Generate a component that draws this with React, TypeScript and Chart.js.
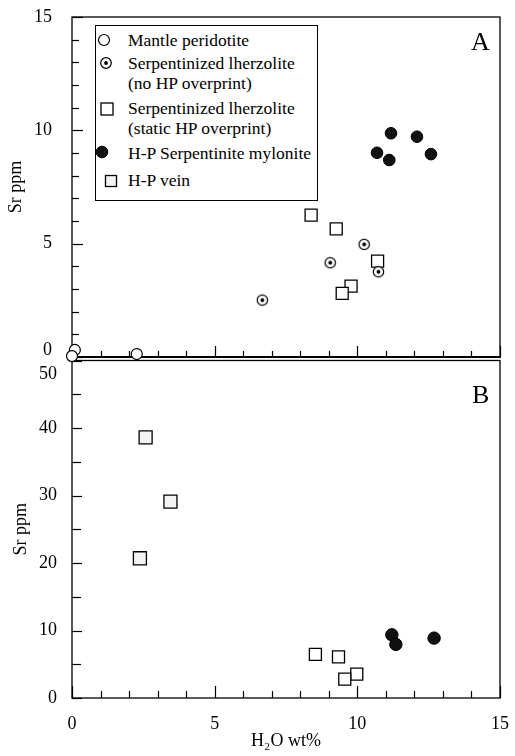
import React, { useEffect, useRef } from 'react';
import { Chart, registerables } from 'chart.js';
Chart.register(...registerables);

const FONT = "'Liberation Serif', 'Times New Roman', serif";

// ---- Panel A (Sr 0-15 ppm) ----
const mantleX = [0.1, 0.0, 2.27];
const mantleY = [0.31, 0.04, 0.13];
const noHpX = [10.24, 9.05, 10.74, 6.67];
const noHpY = [4.97, 4.16, 3.76, 2.51];
const staticHpXA = [8.38, 9.26, 10.71, 9.78, 9.47];
const staticHpYA = [6.26, 5.65, 4.23, 3.13, 2.81];
const myloniteXA = [11.18, 12.09, 10.69, 11.12, 12.58];
const myloniteYA = [9.87, 9.72, 9.01, 8.69, 8.95];

// ---- Panel B (Sr 0-50 ppm) ----
const veinX = [2.58, 3.45, 2.38];
const veinY = [38.6, 29.1, 20.7];
const staticHpXB = [8.53, 9.34, 9.98, 9.56];
const staticHpYB = [6.47, 6.08, 3.53, 2.79];
const myloniteXB = [11.21, 11.35, 12.69];
const myloniteYB = [9.36, 7.94, 8.87];

// ---- ticks / labels ----
const xTicks = [0, 5, 10, 15];
const yTicksA = [0, 5, 10, 15];
const yTicksB = [0, 10, 20, 30, 40, 50];
const xTitle = 'H\u2082O wt%';
const yTitle = 'Sr ppm';
const legendLines = [
  ['Mantle peridotite'],
  ['Serpentinized lherzolite', '(no HP overprint)'],
  ['Serpentinized lherzolite', '(static HP overprint)'],
  ['H-P Serpentinite mylonite'],
  ['H-P vein'],
];

const zip = (xs: number[], ys: number[]) => xs.map((x, i) => ({ x, y: ys[i] }));

function makeDotCircle(r: number, dot: number) {
  const s = Math.ceil(2 * r + 4);
  const c = document.createElement('canvas');
  c.width = s;
  c.height = s;
  const g = c.getContext('2d')!;
  g.beginPath();
  g.arc(s / 2, s / 2, r, 0, Math.PI * 2);
  g.fillStyle = '#fff';
  g.fill();
  g.lineWidth = 1.2;
  g.strokeStyle = '#000';
  g.stroke();
  g.beginPath();
  g.arc(s / 2, s / 2, dot, 0, Math.PI * 2);
  g.fillStyle = '#000';
  g.fill();
  return c;
}

const framePlugin = {
  id: 'frame',
  beforeDatasetsDraw(chart: any, _args: any, opts: any) {
    const { ctx, chartArea: a, scales } = chart;
    ctx.save();
    ctx.strokeStyle = '#000';
    ctx.lineWidth = 1.3;
    ctx.strokeRect(a.left, a.top, a.right - a.left, a.bottom - a.top);
    if (opts.bottomWidth) {
      ctx.lineWidth = opts.bottomWidth;
      ctx.beginPath();
      ctx.moveTo(a.left, a.bottom);
      ctx.lineTo(a.right + 1, a.bottom);
      ctx.stroke();
    }
    ctx.lineWidth = 1.2;
    const xs = scales.x;
    for (let v = xs.min; v <= xs.max + 1e-9; v += opts.xStep) {
      const px = Math.round(xs.getPixelForValue(v)) + 0.5;
      const len = Math.abs(v % opts.xMajor) < 1e-9 ? opts.xMajorLen : opts.xMinorLen;
      ctx.beginPath();
      ctx.moveTo(px, a.bottom);
      ctx.lineTo(px, a.bottom - len);
      ctx.stroke();
    }
    const ys = scales.y;
    for (let v = ys.min; v <= ys.max + 1e-9; v += opts.yStep) {
      const py = Math.round(ys.getPixelForValue(v)) + 0.5;
      const len = Math.abs(v % opts.yMajor) < 1e-9 ? opts.yMajorLen : opts.yMinorLen;
      ctx.beginPath();
      ctx.moveTo(a.left, py);
      ctx.lineTo(a.left + len, py);
      ctx.stroke();
    }
    ctx.restore();
  },
};

const noLabelPadding = (s: any) => {
  s.paddingTop = 0;
  s.paddingBottom = 0;
  s.paddingLeft = 0;
  s.paddingRight = 0;
};

function squareDs(label: string, xs: number[], ys: number[]) {
  return {
    label,
    data: zip(xs, ys),
    pointStyle: 'rect',
    pointRadius: 8.5,
    backgroundColor: '#fff',
    borderColor: '#000',
    borderWidth: 1.3,
    clip: false,
  };
}

function myloniteDs(xs: number[], ys: number[], r: number) {
  return {
    label: legendLines[3].join(' '),
    data: zip(xs, ys),
    pointStyle: 'circle',
    pointRadius: r,
    backgroundColor: '#111',
    borderColor: '#000',
    borderWidth: 1,
    clip: false,
  };
}

export default function App() {
  const topRef = useRef<HTMLCanvasElement>(null);
  const botRef = useRef<HTMLCanvasElement>(null);

  useEffect(() => {
    const dotCircle = makeDotCircle(5.2, 1.9);
    const tickFont = { family: FONT, size: 18 };

    const chartA = new Chart(topRef.current!, {
      type: 'scatter',
      data: {
        datasets: [
          {
            label: legendLines[0].join(' '),
            data: zip(mantleX, mantleY),
            pointStyle: 'circle',
            pointRadius: 5.5,
            backgroundColor: '#fff',
            borderColor: '#000',
            borderWidth: 1.2,
            clip: false,
          },
          {
            label: legendLines[1].join(' '),
            data: zip(noHpX, noHpY),
            pointStyle: dotCircle,
            pointRadius: 6,
            clip: false,
          },
          squareDs(legendLines[2].join(' '), staticHpXA, staticHpYA),
          myloniteDs(myloniteXA, myloniteYA, 5.8),
        ] as any,
      },
      plugins: [framePlugin as any],
      options: {
        responsive: false,
        animation: false,
        events: [],
        layout: { padding: { top: 17, right: 15, bottom: 15, left: 0 } },
        plugins: {
          legend: { display: false },
          tooltip: { enabled: false },
          frame: {
            bottomWidth: 2.2,
            xStep: 1, xMajor: 5, xMajorLen: 11, xMinorLen: 6,
            yStep: 1, yMajor: 5, yMajorLen: 11, yMinorLen: 7,
          },
        } as any,
        scales: {
          x: { type: 'linear', min: 0, max: 15, display: false },
          y: {
            type: 'linear',
            min: 0,
            max: 15,
            grid: { display: false },
            border: { display: false },
            afterBuildTicks: (s: any) => { s.ticks = yTicksA.map((v) => ({ value: v })); },
            afterFit: (s: any) => { s.width = 72; noLabelPadding(s); },
            ticks: {
              color: '#000',
              padding: 12,
              font: { ...tickFont, lineHeight: 0.7 },
              callback: (v: any) => (v === 0 ? ['0', ''] : String(v)),
            },
            title: {
              display: true,
              text: yTitle,
              color: '#000',
              font: { family: FONT, size: 18 },
              padding: { top: 5, bottom: 0 },
            },
          },
        },
      } as any,
    });

    const chartB = new Chart(botRef.current!, {
      type: 'scatter',
      data: {
        datasets: [
          {
            ...squareDs(legendLines[4].join(' '), veinX, veinY),
            pointRadius: 9.2,
            backgroundColor: '#f3f3f3',
          },
          squareDs(legendLines[2].join(' '), staticHpXB, staticHpYB),
          myloniteDs(myloniteXB, myloniteYB, 6.2),
        ] as any,
      },
      plugins: [framePlugin as any],
      options: {
        responsive: false,
        animation: false,
        events: [],
        layout: { padding: { top: 8, right: 15, bottom: 0, left: 0 } },
        plugins: {
          legend: { display: false },
          tooltip: { enabled: false },
          frame: {
            xStep: 1, xMajor: 5, xMajorLen: 12, xMinorLen: 7,
            yStep: 5, yMajor: 10, yMajorLen: 10, yMinorLen: 9,
          },
        } as any,
        scales: {
          x: {
            type: 'linear',
            min: 0,
            max: 15,
            grid: { display: false },
            border: { display: false },
            afterBuildTicks: (s: any) => { s.ticks = xTicks.map((v) => ({ value: v })); },
            afterFit: (s: any) => { s.height = 58; noLabelPadding(s); },
            ticks: { color: '#000', padding: 7, font: tickFont, maxRotation: 0, autoSkip: false },
            title: {
              display: true,
              text: xTitle,
              color: '#000',
              font: { family: FONT, size: 18 },
              padding: { top: 0, bottom: 4 },
            },
          },
          y: {
            type: 'linear',
            min: 0,
            max: 50,
            grid: { display: false },
            border: { display: false },
            afterBuildTicks: (s: any) => { s.ticks = yTicksB.map((v) => ({ value: v })); },
            afterFit: (s: any) => { s.width = 72; noLabelPadding(s); },
            ticks: {
              color: '#000',
              padding: 7,
              font: { ...tickFont, lineHeight: 1.55 },
              callback: (v: any) => (v === 50 ? ['', '50'] : String(v)),
            },
            title: {
              display: true,
              text: yTitle,
              color: '#000',
              font: { family: FONT, size: 18 },
              padding: { top: 10, bottom: 0 },
            },
          },
        },
      } as any,
    });

    return () => {
      chartA.destroy();
      chartB.destroy();
    };
  }, []);

  const textStyle: React.CSSProperties = {
    position: 'absolute',
    fontFamily: FONT,
    fontSize: 17.5,
    lineHeight: '20px',
    color: '#000',
    whiteSpace: 'nowrap',
  };
  // legend rows: marker centre and text line centres (page pixels)
  const rows = [
    { mx: 104, my: 40, lines: [40] },
    { mx: 106, my: 63, lines: [63, 83] },
    { mx: 107, my: 109, lines: [108, 128] },
    { mx: 102, my: 152, lines: [153] },
    { mx: 111, my: 181, lines: [180] },
  ];
  const marker = (i: number) => {
    switch (i) {
      case 0:
        return <circle cx={9} cy={9} r={5.5} fill="#fff" stroke="#000" strokeWidth={1.2} />;
      case 1:
        return (
          <g>
            <circle cx={9} cy={9} r={5.3} fill="#fff" stroke="#000" strokeWidth={1.2} />
            <circle cx={9} cy={9} r={1.9} fill="#000" />
          </g>
        );
      case 2:
        return <rect x={3} y={3} width={12} height={12} fill="#fff" stroke="#000" strokeWidth={1.3} />;
      case 3:
        return <circle cx={9} cy={9} r={5.8} fill="#111" stroke="#000" strokeWidth={1} />;
      default:
        return <rect x={3.5} y={3.5} width={11} height={11} fill="#f3f3f3" stroke="#000" strokeWidth={1.3} />;
    }
  };

  return (
    <div
      style={{
        position: 'fixed',
        left: 0,
        top: 0,
        width: 515,
        height: 756,
        background: '#fff',
        overflow: 'hidden',
      }}
    >
      <canvas ref={botRef} width={515} height={406} style={{ position: 'absolute', left: 0, top: 350 }} />
      <canvas ref={topRef} width={515} height={372} style={{ position: 'absolute', left: 0, top: 0 }} />
      <div
        style={{
          position: 'absolute',
          left: 95,
          top: 25,
          width: 221,
          height: 174,
          border: '1.3px solid #000',
          background: '#fff',
        }}
      />
      {rows.map((r, i) => (
        <React.Fragment key={i}>
          <svg
            width={18}
            height={18}
            style={{ position: 'absolute', left: r.mx - 9, top: r.my - 9 }}
          >
            {marker(i)}
          </svg>
          {legendLines[i].map((t, j) => (
            <div key={j} style={{ ...textStyle, left: 128, top: r.lines[j] - 10 }}>
              {t}
            </div>
          ))}
        </React.Fragment>
      ))}
      <div style={{ ...textStyle, fontSize: 26, lineHeight: '30px', left: 471, top: 27 }}>A</div>
      <div style={{ ...textStyle, fontSize: 26, lineHeight: '30px', left: 472, top: 380 }}>B</div>
    </div>
  );
}
